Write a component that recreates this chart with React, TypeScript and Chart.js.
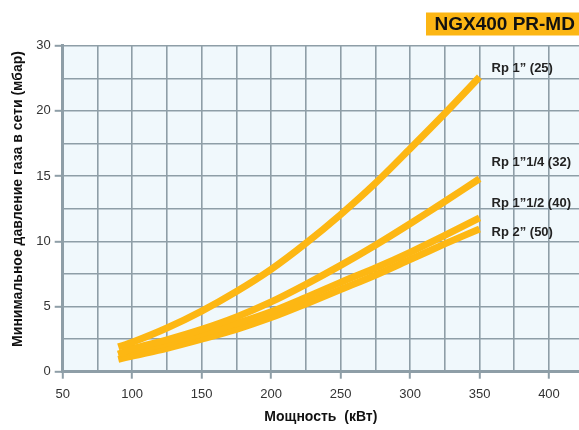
import React, { useEffect, useRef } from "react";
import { Chart, registerables } from "chart.js";

Chart.register(...registerables);

// Power (kW)
const powerKW = [90, 100, 125, 150, 175, 200, 225, 250, 275, 300, 325, 350];
// Minimum gas network pressure (mbar) per connection size
const rp1 = [1.9, 2.25, 3.35, 4.65, 6.15, 7.85, 9.85, 12.05, 14.45, 17.1, 19.8, 22.6];
const rp1_1_4 = [1.35, 1.75, 2.45, 3.25, 4.2, 5.35, 6.7, 8.15, 9.7, 11.35, 13.05, 14.8];
const rp1_1_2 = [1.3, 1.6, 2.2, 2.9, 3.7, 4.6, 5.7, 6.85, 7.95, 9.15, 10.45, 11.8];
const rp2 = [0.95, 1.2, 1.8, 2.5, 3.25, 4.15, 5.2, 6.3, 7.4, 8.6, 9.8, 10.95];

const seriesNames = ["Rp 1\u201D (25)", "Rp 1\u201D1/4 (32)", "Rp 1\u201D1/2 (40)", "Rp 2\u201D (50)"];
const seriesValues = [rp1, rp1_1_4, rp1_1_2, rp2];

// y tick labels as printed on the original (top label reads "30")
const yTickValues = [0, 5, 10, 15, 20, 25];
const yTickLabels = ["0", "5", "10", "15", "20", "30"];
const xTickValues = [50, 100, 150, 200, 250, 300, 350, 400];

const chartTitle = "NGX400 PR-MD";
const xTitle = "Мощность  (кВт)";
const yTitle = "Минимальное давление газа в сети (мбар)";

// styling
const ORANGE = "#FDB713";
const GRID = "#8E9EA7";
const BG = "#F0F8FC";
const labelOffsets = [-9, -16, -14, 4];

export default function App() {
  const ref = useRef<HTMLCanvasElement | null>(null);

  useEffect(() => {
    document.body.style.margin = "0";
    const canvas = ref.current!;
    const decor = {
      id: "decor",
      beforeDraw(chart: any) {
        const { ctx, chartArea: a } = chart;
        ctx.save();
        ctx.fillStyle = BG;
        ctx.fillRect(a.left, a.top, a.right - a.left, a.bottom - a.top);
        ctx.restore();
      },
      afterDraw(chart: any) {
        const { ctx } = chart;
        const xs = chart.scales.x;
        const ys = chart.scales.y;
        ctx.save();
        // series labels
        ctx.fillStyle = "#222";
        ctx.font = "bold 13px 'Liberation Sans', Arial, sans-serif";
        ctx.textAlign = "left";
        ctx.textBaseline = "middle";
        seriesNames.forEach((n, i) => {
          const vals = seriesValues[i];
          const px = xs.getPixelForValue(powerKW[powerKW.length - 1]) + 12;
          const py = ys.getPixelForValue(vals[vals.length - 1]) + labelOffsets[i];
          ctx.fillText(n, px, py);
        });
        // axis titles
        ctx.fillStyle = "#111";
        ctx.font = "bold 14px 'Liberation Sans', Arial, sans-serif";
        ctx.textAlign = "center";
        ctx.fillText(xTitle, (chart.chartArea.left + chart.chartArea.right) / 2, 417);
        ctx.save();
        ctx.translate(18, 199);
        ctx.rotate(-Math.PI / 2);
        ctx.fillText(yTitle, 0, 0);
        ctx.restore();
        // title box
        ctx.fillStyle = "#FCB614";
        ctx.fillRect(426, 12.5, 153, 23);
        ctx.fillStyle = "#111";
        ctx.font = "bold 19px 'Liberation Sans', Arial, sans-serif";
        ctx.textAlign = "left";
        ctx.fillText(chartTitle, 434.5, 24.5);
        ctx.restore();
      },
    };

    const chart = new Chart(canvas, {
      type: "line",
      data: {
        datasets: seriesValues.map((vals, i) => ({
          label: seriesNames[i],
          data: vals.map((v, j) => ({ x: powerKW[j], y: v })),
          borderColor: ORANGE,
          backgroundColor: ORANGE,
          borderWidth: 7,
          borderCapStyle: "butt",
          pointRadius: 0,
          tension: 0.3,
          fill: false,
        })),
      },
      options: {
        animation: false,
        responsive: false,
        devicePixelRatio: 1,
        layout: { padding: { top: 45.7, right: 0, left: 0, bottom: 0 } },
        plugins: { legend: { display: false }, tooltip: { enabled: false } },
        scales: {
          x: {
            type: "linear",
            min: 50,
            max: 421.6,
            afterFit: (s: any) => {
              s.height = 58.3;
            },
            ticks: {
              stepSize: 25,
              includeBounds: false,
              autoSkip: false,
              maxRotation: 0,
              padding: 8,
              color: "#333",
              font: { size: 13, family: "'Liberation Sans', Arial, sans-serif" },
              callback: (v: any) => (xTickValues.includes(Number(v)) ? String(v) : ""),
            },
            grid: {
              color: GRID,
              lineWidth: 1.6,
              tickLength: 7,
              tickColor: (c: any) =>
                c.tick && xTickValues.includes(c.tick.value) ? GRID : "rgba(0,0,0,0)",
              tickWidth: 2,
            },
            border: { color: GRID, width: 3 },
          },
          y: {
            type: "linear",
            min: 0,
            max: 25,
            afterFit: (s: any) => {
              s.width = 62.7;
            },
            ticks: {
              stepSize: 2.5,
              autoSkip: false,
              padding: 4,
              color: "#333",
              font: { size: 13, family: "'Liberation Sans', Arial, sans-serif" },
              callback: (v: any) => {
                const k = yTickValues.indexOf(Number(v));
                return k >= 0 ? yTickLabels[k] : "";
              },
            },
            grid: {
              color: GRID,
              lineWidth: 1.6,
              tickLength: 8,
              tickColor: (c: any) =>
                c.tick && yTickValues.includes(c.tick.value) ? GRID : "rgba(0,0,0,0)",
              tickWidth: 2,
            },
            border: { color: GRID, width: 3 },
          },
        },
      },
      plugins: [decor],
    } as any);
    return () => chart.destroy();
  }, []);

  return (
    <div style={{ width: 579, height: 430 }}>
      <canvas ref={ref} width={579} height={430} />
    </div>
  );
}
